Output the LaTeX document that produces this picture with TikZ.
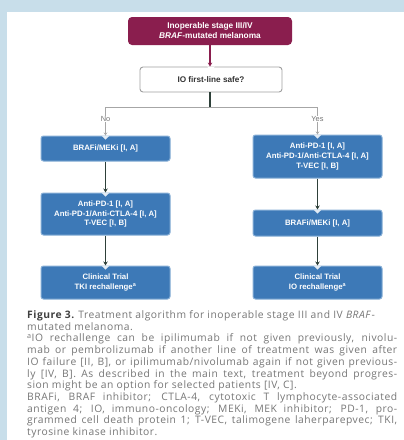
\documentclass[tikz,border=0pt]{standalone}
\usepackage{fontspec}
\setmainfont{Open Sans}[LetterSpace=5]
\newfontfamily\boxfont{Liberation Sans}
\usetikzlibrary{arrows.meta}

\definecolor{pagebg}{HTML}{C8DEEA}
\definecolor{plum}{HTML}{8A1E4E}
\definecolor{stepblue}{HTML}{3D79B7}
\definecolor{stepedge}{HTML}{86AED6}
\definecolor{linkdark}{HTML}{2E4039}
\definecolor{captxt}{HTML}{767676}
\definecolor{capdark}{HTML}{404040}

% justified caption line of fixed width
\newcommand\jline[1]{\makebox[370pt][s]{#1}}

\tikzset{
  stepbox/.style={draw=stepedge, line width=1pt, fill=stepblue,
    rounded corners=2.5pt, minimum width=129pt, inner sep=0pt,
    text=white, align=center,
    font=\boxfont\bfseries\fontsize{7.8}{9.6}\selectfont},
  startbox/.style={fill=plum, rounded corners=4pt, minimum width=164pt,
    minimum height=28pt, inner sep=0pt, text=white, align=center,
    font=\boxfont\bfseries\fontsize{8.3}{10}\selectfont},
  askbox/.style={draw=gray!75, line width=0.9pt, fill=white,
    rounded corners=3pt, minimum width=142pt, minimum height=25pt,
    inner sep=0pt, text=black!80,
    font=\boxfont\bfseries\fontsize{8.2}{9}\selectfont},
  link/.style={draw=linkdark, line width=1.3pt,
    -{Stealth[length=4pt,width=4.5pt]}},
  thinlink/.style={draw=gray!70, line width=0.6pt,
    -{Stealth[length=3pt,width=3.5pt]}},
  branch/.style={draw=gray!70, line width=0.6pt},
  answer/.style={inner sep=0.5pt, text=gray!90!black,
    font=\boxfont\fontsize{7.4}{8}\selectfont},
  capline/.style={anchor=base west, inner sep=0pt, text=captxt,
    font=\fontsize{10.3}{11.7}\selectfont},
  notch/.style={fill=white!85!stepblue}
}

\begin{document}
\begin{tikzpicture}[x=1pt, y=-1pt]
  \useasboundingbox (0,0) rectangle (404,440);
  \clip (0,0) rectangle (404,440);
  % page and surrounding background
  \fill[pagebg] (0,0) rectangle (404,440);
  \fill[white] (7,12) rectangle (404,440);

  % flow chart boxes
  \node[startbox] (start) at (210,31)
    {Inoperable stage III/IV\\\textit{BRAF}-mutated melanoma};
  \node[askbox] (ask) at (211,79.5) {IO first-line safe?};

  \node[stepbox, minimum height=25pt] (l1) at (105.5,148.5) {BRAFi/MEKi [I, A]};
  \node[stepbox, minimum height=42pt] (l2) at (105.5,214)
    {Anti-PD-1 [I, A]\\Anti-PD-1/Anti-CTLA-4 [I, A]\\T-VEC [I, B]};
  \node[stepbox, minimum height=33pt] (l3) at (105.5,282.5)
    {Clinical Trial\\TKI rechallenge\textsuperscript{a}};

  \node[stepbox, minimum height=43pt] (r1) at (317.5,156.5)
    {Anti-PD-1 [I, A]\\Anti-PD-1/Anti-CTLA-4 [I, A]\\T-VEC [I, B]};
  \node[stepbox, minimum height=26pt] (r2) at (317.5,223) {BRAFi/MEKi [I, A]};
  \node[stepbox, minimum height=33pt] (r3) at (317.5,282.5)
    {Clinical Trial\\IO rechallenge\textsuperscript{a}};

  % branch point and answers
  \coordinate (fork) at (210,107);
  \coordinate (forkno) at (105.5,107);
  \coordinate (forkyes) at (317.5,107);
  \node[answer] (no) at (105.5,119) {No};
  \node[answer] (yes) at (317.5,119) {Yes};

  % notches where arrows enter the boxes
  \foreach \b in {l1,l2,l3,r1,r2,r3}{
    \fill[notch] ([xshift=-4pt]\b.north) -- ([xshift=4pt]\b.north)
      -- ([yshift=-4pt]\b.north) -- cycle;
  }
  \fill[white] ([xshift=-4pt]ask.north) -- ([xshift=4pt]ask.north)
      -- ([yshift=-4pt]ask.north) -- cycle;

  % connectors
  \draw[link, draw=plum] (start.south) -- ([xshift=-1pt]ask.north);
  \draw[linkdark, line width=1.3pt] (ask.south -| fork) -- (fork);
  \draw[branch] (forkno) -- (forkyes);
  \draw[branch] (forkno) -- (no.north);
  \draw[branch] (forkyes) -- (yes.north);
  \draw[thinlink] (no.south) -- (l1.north);
  \draw[thinlink] (yes.south) -- (r1.north);
  \draw[link] (l1.south) -- (l2.north);
  \draw[link] (l2.south) -- (l3.north);
  \draw[link] (r1.south) -- (r2.north);
  \draw[link] (r2.south) -- (r3.north);

  % caption
  \node[capline] (cap1) at (27,318.5)
    {{\color{capdark}\bfseries Figure 3.} Treatment algorithm for inoperable stage III and IV \textit{BRAF}-};
  \node[capline] (cap2) at (27,330.2) {mutated melanoma.};
  \node[capline] (cap3) at (27,341.9)
    {\jline{\textsuperscript{a}IO rechallenge can be ipilimumab if not given previously, nivolu-}};
  \node[capline] (cap4) at (27,353.6)
    {\jline{mab or pembrolizumab if another line of treatment was given after}};
  \node[capline] (cap5) at (27,365.3)
    {\jline{IO failure [II, B], or ipilimumab/nivolumab again if not given previous-}};
  \node[capline] (cap6) at (27,377.0)
    {\jline{ly [IV, B]. As described in the main text, treatment beyond progres-}};
  \node[capline] (cap7) at (27,388.7)
    {sion might be an option for selected patients [IV, C].};
  \node[capline] (cap8) at (27,400.4)
    {\jline{BRAFi, BRAF inhibitor; CTLA-4, cytotoxic T lymphocyte-associated}};
  \node[capline] (cap9) at (27,412.1)
    {\jline{antigen 4; IO, immuno-oncology; MEKi, MEK inhibitor; PD-1, pro-}};
  \node[capline] (cap10) at (27,423.8)
    {\jline{grammed cell death protein 1; T-VEC, talimogene laherparepvec; TKI,}};
  \node[capline] (cap11) at (27,435.5) {tyrosine kinase inhibitor.};
\end{tikzpicture}
\end{document}
